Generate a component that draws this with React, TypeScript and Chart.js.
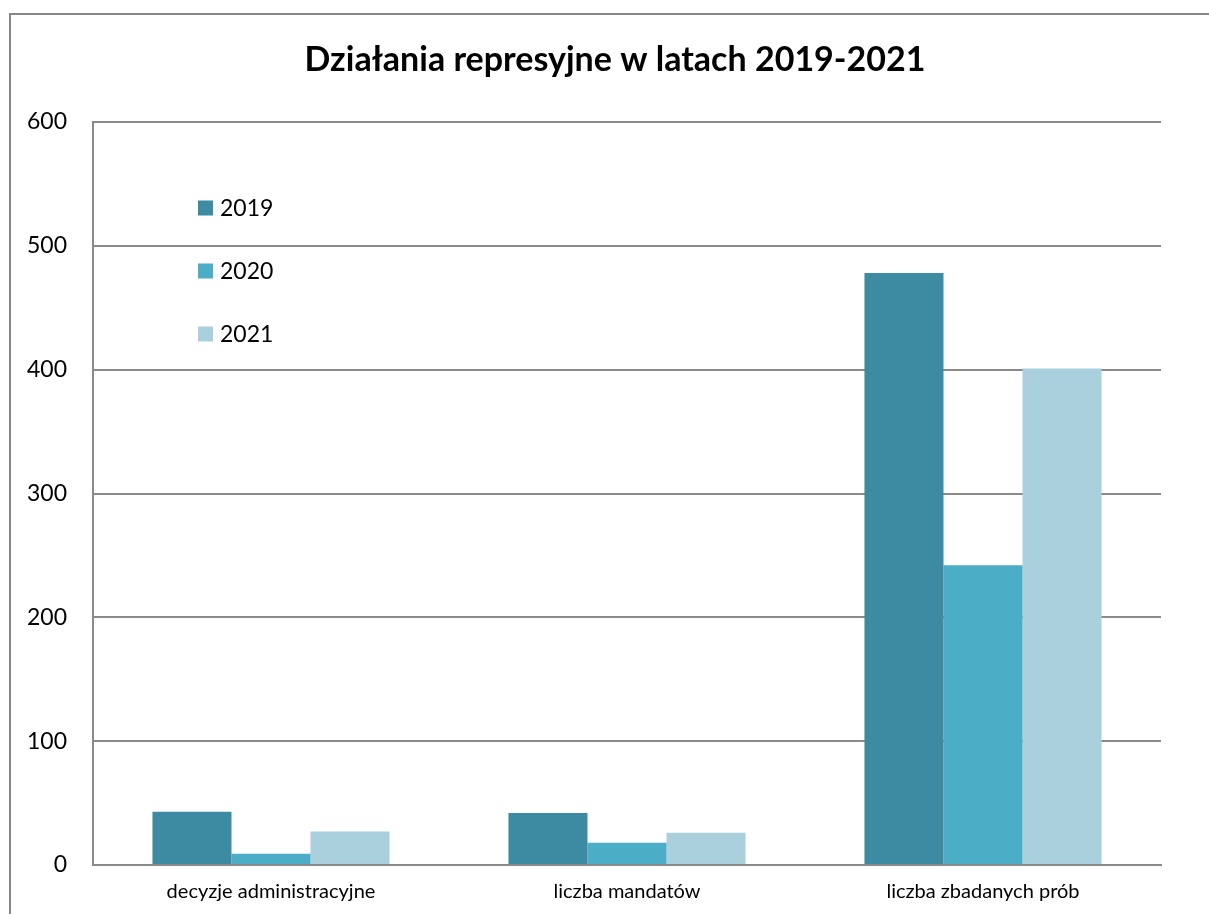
import React, { useEffect, useRef } from "react";
import { Chart, registerables } from "chart.js";

Chart.register(...registerables);

const TITLE = "Działania represyjne w latach 2019-2021";
const CATEGORIES = ["decyzje administracyjne", "liczba mandatów", "liczba zbadanych prób"];
const SERIES_LABELS = ["2019", "2020", "2021"];
const VALUES_2019 = [43, 42, 478];
const VALUES_2020 = [9, 18, 242];
const VALUES_2021 = [27, 26, 401];
const COLORS = ["#3D8BA2", "#4BADC6", "#AACFDD"];
const Y_MIN = 0;
const Y_MAX = 600;
const Y_STEP = 100;

const FONT = "Lato, 'Open Sans', sans-serif";
const GRID = "#8a8a8a";

const insideLegend = {
  id: "insideLegend",
  afterDraw(chart: any) {
    const ctx = chart.ctx;
    const area = chart.chartArea;
    ctx.save();
    ctx.font = `23px ${FONT}`;
    ctx.textBaseline = "middle";
    ctx.textAlign = "left";
    chart.data.datasets.forEach((ds: any, i: number) => {
      const cy = area.top + 86 + i * 63;
      const x = area.left + 105;
      ctx.fillStyle = ds.backgroundColor;
      ctx.fillRect(x, cy - 7.5, 15, 15);
      ctx.fillStyle = "#000";
      ctx.fillText(ds.label, x + 22, cy + 1);
    });
    ctx.restore();
  },
};

const boxTitle = {
  id: "boxTitle",
  afterDraw(chart: any) {
    const ctx = chart.ctx;
    ctx.save();
    ctx.font = `bold 34px ${FONT}`;
    ctx.textBaseline = "middle";
    ctx.textAlign = "center";
    ctx.fillStyle = "#000";
    ctx.fillText(TITLE, 615, 60);
    ctx.restore();
  },
};

export default function App() {
  const ref = useRef<HTMLCanvasElement | null>(null);
  useEffect(() => {
    if (!ref.current) return;
    const values = [VALUES_2019, VALUES_2020, VALUES_2021];
    const chart = new Chart(ref.current, {
      type: "bar",
      data: {
        labels: CATEGORIES,
        datasets: SERIES_LABELS.map((l, i) => ({
          label: l,
          data: values[i],
          backgroundColor: COLORS[i],
          borderWidth: 0,
          barPercentage: 1,
          categoryPercentage: 0.666,
        })),
      },
      options: {
        responsive: false,
        animation: false,
        devicePixelRatio: 1,
        layout: { padding: { left: 0, right: 48, top: 122, bottom: 0 } },
        plugins: {
          legend: { display: false },
          tooltip: { enabled: false },
          title: { display: false },
        },
        scales: {
          x: {
            grid: { display: false, drawTicks: false },
            border: { display: true, color: GRID, width: 2 },
            ticks: { color: "#000", font: { family: FONT, size: 20 }, padding: 15, maxRotation: 0 },
            afterFit: (s: any) => { s.height = 49; },
          },
          y: {
            min: Y_MIN,
            max: Y_MAX,
            ticks: { stepSize: Y_STEP, color: "#000", font: { family: FONT, size: 23 }, padding: 26 },
            grid: { color: GRID, lineWidth: 2, drawTicks: false },
            border: { display: true, color: GRID, width: 2 },
            afterFit: (s: any) => { s.width = 93; },
          },
        },
      },
      plugins: [insideLegend, boxTitle],
    });
    return () => chart.destroy();
  }, []);

  return (
    <div style={{ position: "fixed", left: 0, top: 0, width: 1209, height: 914, overflow: "hidden", background: "#fff" }}>
      <div
        style={{
          position: "absolute",
          left: 9,
          top: 13,
          width: 1400,
          height: 1200,
          borderLeft: "2px solid #878787",
          borderTop: "2px solid #878787",
        }}
      />
      <canvas ref={ref} width={1209} height={914} style={{ position: "absolute", left: 0, top: 0 }} />
    </div>
  );
}
